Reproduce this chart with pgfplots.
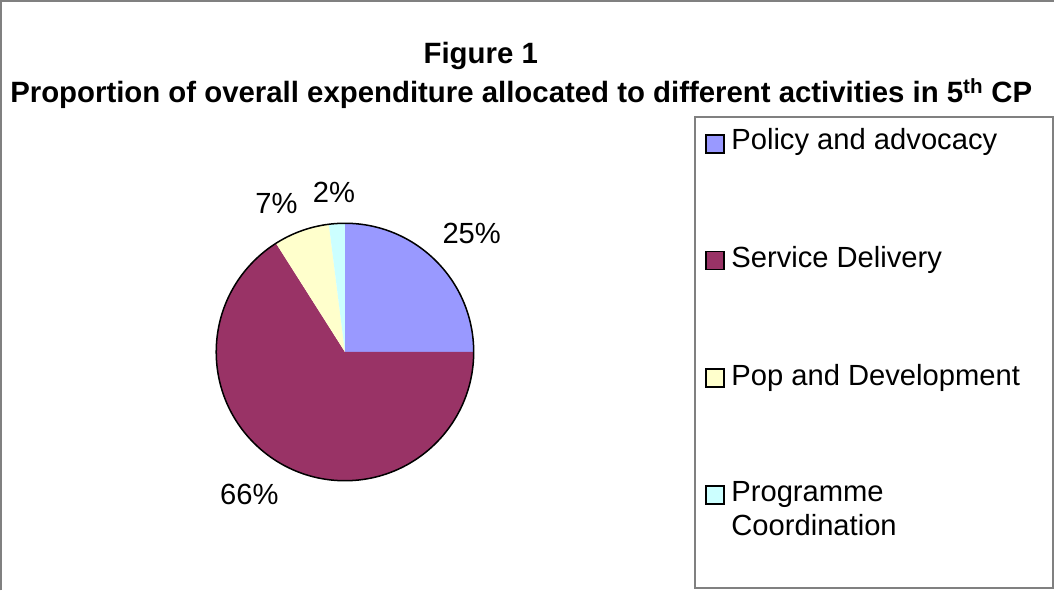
\documentclass[border=0pt]{standalone}
\usepackage{fontspec}
\setmainfont{Liberation Sans}
\usepackage{pgfplots}
\usepackage{pgfplotstable}
\pgfplotsset{compat=1.18}

\definecolor{polcol}{HTML}{9999FF}
\definecolor{sercol}{HTML}{993366}
\definecolor{popcol}{HTML}{FFFFCC}
\definecolor{prgcol}{HTML}{CCFFFF}
\definecolor{framecol}{HTML}{808080}

% shares of expenditure, per cent
\pgfplotstableread{
label   value
Policy  25
Service 66
Pop     7
Prog    2
}\piedata

\newcommand{\chartfont}{\fontsize{29}{35}\selectfont}
\newcommand{\titlefont}{\fontsize{29.2}{35}\selectfont\bfseries}

\begin{document}
\begin{tikzpicture}
\pgfplotstablegetelem{0}{value}\of\piedata \let\va\pgfplotsretval
\pgfplotstablegetelem{1}{value}\of\piedata \let\vb\pgfplotsretval
\pgfplotstablegetelem{2}{value}\of\piedata \let\vc\pgfplotsretval
\pgfplotstablegetelem{3}{value}\of\piedata \let\vd\pgfplotsretval
% slices run clockwise from 12 o'clock
\pgfmathsetmacro{\aA}{90}
\pgfmathsetmacro{\aB}{\aA-3.6*\va}
\pgfmathsetmacro{\aC}{\aB-3.6*\vb}
\pgfmathsetmacro{\aD}{\aC-3.6*\vc}
\pgfmathsetmacro{\aE}{\aD-3.6*\vd}
\begin{axis}[
    hide axis, scale only axis,
    width=1055pt, height=594pt,
    xmin=0, xmax=1055, ymin=-594, ymax=0,
    clip=false,
  ]
  % frames
  \draw[framecol, line width=2pt] (axis cs:8,-594) -- (axis cs:8,-8) -- (axis cs:1055,-8);
  \draw[framecol, line width=2pt] (axis cs:1054,-123) -- (axis cs:698,-123) -- (axis cs:698,-592) -- (axis cs:1054,-592) -- cycle;

  % title
  \node[font=\titlefont, anchor=base, inner sep=0pt] at (axis cs:485,-70) {Figure 1};
  \node[font=\titlefont, anchor=base west, inner sep=0pt] at (axis cs:17,-109) {Proportion of overall expenditure allocated to different activities in 5\textsuperscript{th} CP};

  % pie
  \fill[polcol] (axis cs:350,-357) -- ++(\aA:128pt) arc[start angle=\aA, end angle=\aB, radius=128pt] -- cycle;
  \fill[sercol] (axis cs:350,-357) -- ++(\aB:128pt) arc[start angle=\aB, end angle=\aC, radius=128pt] -- cycle;
  \fill[popcol] (axis cs:350,-357) -- ++(\aC:128pt) arc[start angle=\aC, end angle=\aD, radius=128pt] -- cycle;
  \fill[prgcol] (axis cs:350,-357) -- ++(\aD:128pt) arc[start angle=\aD, end angle=\aE, radius=128pt] -- cycle;
  \draw[black, line width=1.5pt] (axis cs:350,-357) circle[radius=128pt];

  \node[font=\chartfont] at (axis cs:476,-239) {\va\%};
  \node[font=\chartfont] at (axis cs:255,-499) {\vb\%};
  \node[font=\chartfont] at (axis cs:282,-209) {\vc\%};
  \node[font=\chartfont] at (axis cs:339,-198) {\vd\%};

  % legend
  \filldraw[fill=polcol, draw=black, line width=1.5pt] (axis cs:709,-141) rectangle (axis cs:727,-159);
  \filldraw[fill=sercol, draw=black, line width=1.5pt] (axis cs:709,-257) rectangle (axis cs:727,-275);
  \filldraw[fill=popcol, draw=black, line width=1.5pt] (axis cs:709,-374) rectangle (axis cs:727,-392);
  \filldraw[fill=prgcol, draw=black, line width=1.5pt] (axis cs:709,-490) rectangle (axis cs:727,-508);
  \node[font=\chartfont, anchor=base west, inner sep=0pt] at (axis cs:734,-156) {Policy and advocacy};
  \node[font=\chartfont, anchor=base west, inner sep=0pt] at (axis cs:734,-273) {Service Delivery};
  \node[font=\chartfont, anchor=base west, inner sep=0pt] at (axis cs:734,-390) {Pop and Development};
  \node[font=\chartfont, anchor=base west, inner sep=0pt] at (axis cs:734,-506) {Programme};
  \node[font=\chartfont, anchor=base west, inner sep=0pt] at (axis cs:734,-539) {Coordination};
\end{axis}
\end{tikzpicture}
\end{document}
